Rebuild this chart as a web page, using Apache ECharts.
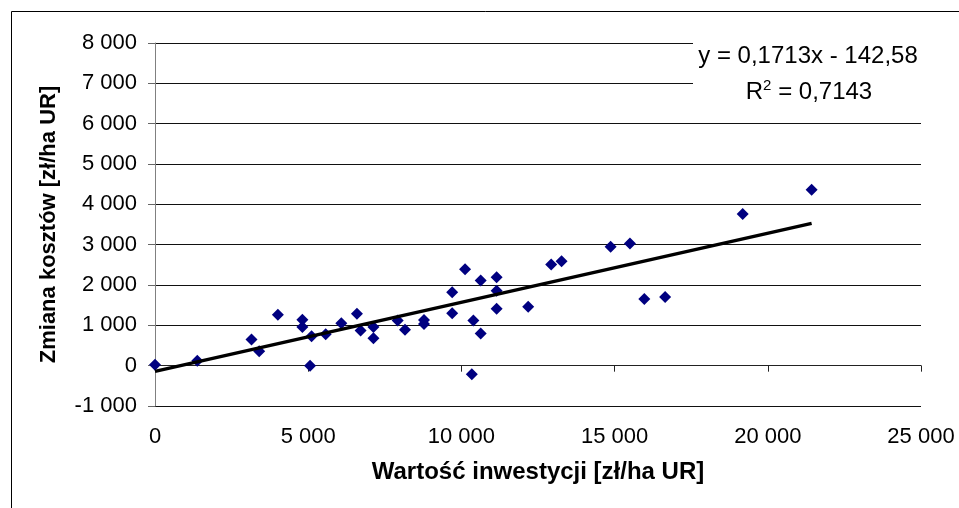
<!DOCTYPE html>
<html>
<head>
<meta charset="utf-8">
<script src="https://cdn.jsdelivr.net/npm/echarts@6/dist/echarts.min.js"></script>
<style>
html,body{margin:0;padding:0;background:#fff;}
#chart{width:959px;height:508px;}
</style>
</head>
<body>
<div id="chart"></div>
<script>
// Data
const xValues = [0, 1380, 3150, 3400, 4010, 4810, 4810, 5060, 5110, 5570, 6080, 6590, 6710, 7130, 7130, 7920, 8160, 8780, 8780, 9700, 9700, 10120, 10340, 10390, 10630, 10630, 11150, 11150, 11150, 12180, 12930, 13270, 14870, 15500, 15970, 16650, 19180, 21430];
const yValues = [20, 120, 650, 360, 1260, 1140, 960, 0, 730, 780, 1050, 1290, 870, 960, 680, 1120, 890, 1130, 1030, 1820, 1300, 2390, -210, 1120, 2110, 800, 2190, 1860, 1410, 1460, 2510, 2590, 2950, 3030, 1650, 1700, 3760, 4360];
// Trendline printed on the chart
const trendSlope = 0.1713;
const trendIntercept = -142.58;
const equationLabel = 'y = 0,1713x - 142,58';
const r2Value = ' = 0,7143';
const xTitle = 'Wartość inwestycji [zł/ha UR]';
const yTitle = 'Zmiana kosztów [zł/ha UR]';

function fmt(v) {
  const s = String(Math.abs(v)).replace(/\B(?=(\d{3})+(?!\d))/g, ' ');
  return (v < 0 ? '-' : '') + s;
}

const points = xValues.map((x, i) => [x, yValues[i]]);
const xMinData = Math.min(...xValues);
const xMaxData = Math.max(...xValues);
const trend = [
  [xMinData, trendSlope * xMinData + trendIntercept],
  [xMaxData, trendSlope * xMaxData + trendIntercept]
];

const FONT = '"Liberation Sans", Arial, sans-serif';
const chart = echarts.init(document.getElementById('chart'), null, {renderer: 'canvas'});
chart.setOption({
  animation: false,
  backgroundColor: '#fff',
  grid: {left: 155, right: 38, top: 43, bottom: 102, containLabel: false},
  xAxis: [{
    type: 'value', min: 0, max: 25000, interval: 5000, position: 'bottom',
    axisLine: {show: false, onZero: false},
    axisTick: {show: false},
    splitLine: {show: false},
    axisLabel: {color: '#000', fontFamily: FONT, fontSize: 22, margin: 20, formatter: fmt},
    name: xTitle, nameLocation: 'middle', nameGap: 54,
    nameTextStyle: {color: '#000', fontFamily: FONT, fontSize: 24, fontWeight: 'bold'}
  }, {
    type: 'value', min: 0, max: 25000, interval: 5000, position: 'bottom',
    axisLine: {show: true, onZero: true, lineStyle: {color: '#222', width: 1}},
    axisTick: {show: true, length: 6, lineStyle: {color: '#222', width: 1}},
    splitLine: {show: false},
    axisLabel: {show: false}
  }],
  yAxis: {
    type: 'value', min: -1000, max: 8000, interval: 1000,
    axisLine: {show: true, onZero: false, lineStyle: {color: '#808080', width: 1}},
    axisTick: {show: true, length: 7, lineStyle: {color: '#666', width: 1}},
    splitLine: {show: true, lineStyle: {color: '#111', width: 1}},
    axisLabel: {color: '#000', fontFamily: FONT, fontSize: 22, margin: 18, formatter: fmt},
    name: yTitle, nameLocation: 'middle', nameGap: 95,
    nameTextStyle: {color: '#000', fontFamily: FONT, fontSize: 22, fontWeight: 'bold'}
  },
  series: [{
    type: 'scatter', xAxisIndex: 0, data: points,
    symbol: 'diamond', symbolSize: [12, 12],
    itemStyle: {color: '#000080', opacity: 1}, z: 2
  }, {
    type: 'line', xAxisIndex: 0, data: trend, symbol: 'none',
    lineStyle: {color: '#000', width: 3.5}, z: 3
  }],
  graphic: [{
    type: 'rect', left: 9, top: 9, z: -10, silent: true,
    shape: {x: 0, y: 0, width: 1000, height: 600},
    style: {fill: null, stroke: '#000', lineWidth: 1}
  }, {
    type: 'rect', z: 50, silent: true,
    shape: {x: 693, y: 36, width: 250, height: 74},
    style: {fill: '#fff'}
  }, {
    type: 'text', z: 51, silent: true, x: 808, y: 56,
    style: {text: equationLabel, fill: '#000', font: '24px ' + FONT, align: 'center', verticalAlign: 'middle'}
  }, {
    type: 'text', z: 51, silent: true, x: 809, y: 92,
    style: {
      text: '{a|R}{s|2}{a|' + r2Value + '}',
      align: 'center', verticalAlign: 'middle',
      rich: {
        a: {fill: '#000', fontFamily: FONT, fontSize: 24, lineHeight: 28},
        s: {fill: '#000', fontFamily: FONT, fontSize: 15, lineHeight: 28, padding: [0, 0, 12, 0]}
      }
    }
  }]
});
</script>
</body>
</html>
